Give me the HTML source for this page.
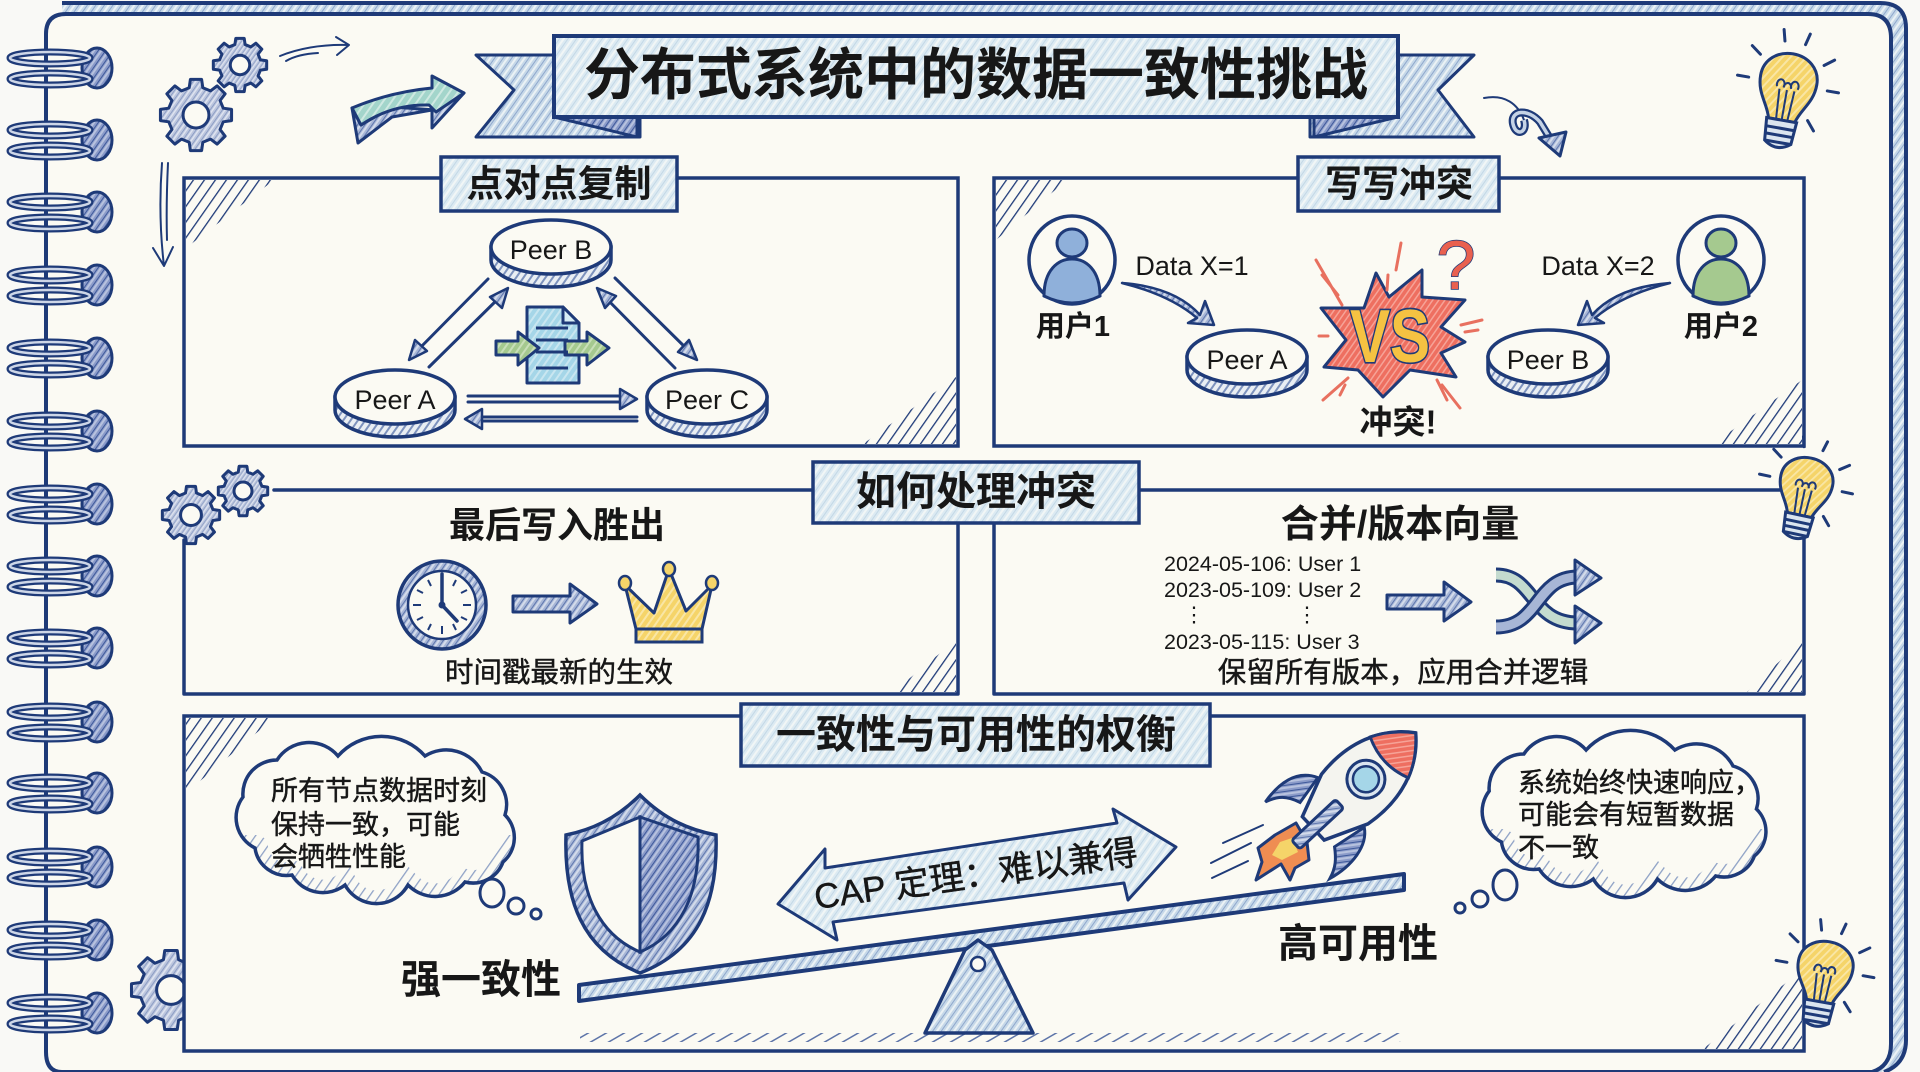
<!DOCTYPE html>
<html lang="zh">
<head>
<meta charset="utf-8">
<title>分布式系统中的数据一致性挑战</title>
<style>
html,body{margin:0;padding:0;background:#f9f9f6;width:1920px;height:1072px;overflow:hidden}
svg{display:block}
svg *{vector-effect:non-scaling-stroke}
text{font-family:"Liberation Sans","Noto Sans CJK SC",sans-serif;fill:#171717;text-anchor:middle;dominant-baseline:central}
.s{fill:none;stroke:#1e3a78;stroke-width:3.5;stroke-linecap:round;stroke-linejoin:round}
.t{fill:none;stroke:#1e3a78;stroke-width:2;stroke-linecap:round;stroke-linejoin:round}
.o{stroke:#1e3a78;stroke-width:3;stroke-linejoin:round;stroke-linecap:round}
.b{font-weight:700}
.m{stroke:#171717;stroke-width:.45}
.l{text-anchor:start}
.r{stroke:#e8705f;stroke-width:3;fill:none;stroke-linecap:round}
</style>
</head>
<body>
<svg width="1920" height="1072" viewBox="0 0 1920 1072" xmlns="http://www.w3.org/2000/svg">
<defs>
<pattern id="pL" width="7" height="7" patternUnits="userSpaceOnUse" patternTransform="rotate(35)"><rect width="7" height="7" fill="#dceaf2"/><rect width="2" height="7" fill="#f1f6f6"/><rect x="4" width="1" height="7" fill="#c3d8e6"/></pattern>
<pattern id="pT" width="7" height="7" patternUnits="userSpaceOnUse" patternTransform="rotate(35)"><rect width="7" height="7" fill="#c6d8e8"/><rect width="2" height="7" fill="#ebf2f5"/><rect x="4" width="1" height="7" fill="#8fa8cd"/></pattern>
<pattern id="pD" width="6" height="6" patternUnits="userSpaceOnUse" patternTransform="rotate(35)"><rect width="6" height="6" fill="#e9eef3"/><rect width="2" height="6" fill="#7d92bd"/></pattern>
<pattern id="pH" width="8" height="8" patternUnits="userSpaceOnUse" patternTransform="rotate(35)"><rect width="1.3" height="8" fill="#8fa2c6"/></pattern>
<pattern id="pC" width="9" height="9" patternUnits="userSpaceOnUse" patternTransform="rotate(35)"><rect width="1.3" height="9" fill="#1e3a78"/></pattern>
<pattern id="pG" width="9" height="9" patternUnits="userSpaceOnUse" patternTransform="rotate(60)"><rect width="1.5" height="9" fill="#5d74a8"/></pattern>
<pattern id="pB" width="6" height="6" patternUnits="userSpaceOnUse" patternTransform="rotate(35)"><rect width="6" height="6" fill="#a7b6d6"/><rect width="2" height="6" fill="#d3dbea"/><rect x="4" width="1" height="6" fill="#5f77ae"/></pattern>
<pattern id="pN" width="6" height="6" patternUnits="userSpaceOnUse" patternTransform="rotate(35)"><rect width="6" height="6" fill="#8b9bc9"/><rect width="2" height="6" fill="#b7c2de"/><rect x="4" width="1" height="6" fill="#3f5a9b"/></pattern>
<pattern id="pCyan" width="6" height="6" patternUnits="userSpaceOnUse" patternTransform="rotate(35)"><rect width="6" height="6" fill="#a5d6e8"/><rect width="2" height="6" fill="#c9e6f0"/></pattern>
<pattern id="pGreen" width="6" height="6" patternUnits="userSpaceOnUse" patternTransform="rotate(35)"><rect width="6" height="6" fill="#a5c98f"/><rect width="2" height="6" fill="#c8dfb8"/></pattern>
<pattern id="pTeal" width="7" height="7" patternUnits="userSpaceOnUse" patternTransform="rotate(35)"><rect width="7" height="7" fill="#a3d5cb"/><rect width="2" height="7" fill="#cfe9e2"/></pattern>
<pattern id="pYellow" width="6" height="6" patternUnits="userSpaceOnUse" patternTransform="rotate(35)"><rect width="6" height="6" fill="#f5d469"/><rect width="2" height="6" fill="#f9e6a5"/></pattern>
<pattern id="pRed" width="5" height="5" patternUnits="userSpaceOnUse" patternTransform="rotate(35)"><rect width="5" height="5" fill="#ee6f60"/><rect width="1.5" height="5" fill="#f6a397"/></pattern>
<pattern id="pGear" width="14" height="14" patternUnits="userSpaceOnUse" patternTransform="rotate(35)"><rect width="14" height="14" fill="#bcc6de"/><rect width="4" height="14" fill="#dfe4f0"/><rect x="9" width="2" height="14" fill="#7f92bd"/></pattern>

<g id="ring">
  <ellipse cx="97" cy="0" rx="15" ry="20" fill="url(#pN)" stroke="#1e3a78" stroke-width="3"/>
  <rect x="48" y="-6" width="28" height="12" fill="#fbfaf3"/>
  <ellipse cx="50" cy="-10" rx="40" ry="6" fill="none" stroke="#1e3a78" stroke-width="7"/>
  <ellipse cx="50" cy="-10" rx="40" ry="6" fill="none" stroke="#cdd6e7" stroke-width="2.5"/>
  <ellipse cx="50" cy="11" rx="40" ry="6" fill="none" stroke="#1e3a78" stroke-width="7"/>
  <ellipse cx="50" cy="11" rx="40" ry="6" fill="none" stroke="#cdd6e7" stroke-width="2.5"/>
</g>

<g id="gear">
  <path fill="url(#pGear)" stroke="#1e3a78" stroke-width="3" stroke-linejoin="round" d="M75.7,-18.9 98.8,-15.6 98.8,15.6 75.7,18.9 66.9,40.2 80.9,58.8 58.8,80.9 40.2,66.9 18.9,75.7 15.6,98.8 -15.6,98.8 -18.9,75.7 -40.2,66.9 -58.8,80.9 -80.9,58.8 -66.9,40.2 -75.7,18.9 -98.8,15.6 -98.8,-15.6 -75.7,-18.9 -66.9,-40.2 -80.9,-58.8 -58.8,-80.9 -40.2,-66.9 -18.9,-75.7 -15.6,-98.8 15.6,-98.8 18.9,-75.7 40.2,-66.9 58.8,-80.9 80.9,-58.8 66.9,-40.2Z"/>
  <circle r="36" fill="#fbfaf3" stroke="#1e3a78" stroke-width="3"/>
</g>

<g id="disc">
  <path d="M-60,0 V13 A60,27 0 0 0 60,13 V0 Z" fill="url(#pD)" stroke="#1e3a78" stroke-width="3.5"/>
  <ellipse rx="60" ry="27" fill="#fbfaf3" stroke="#1e3a78" stroke-width="3.5"/>
</g>

<g id="bulb">
  <path d="M-14,36 C-18,22 -30,14 -30,-4 C-30,-20 -16,-30 0,-30 C16,-30 30,-20 30,-4 C30,14 18,22 14,36 Z" fill="url(#pYellow)" stroke="#1e3a78" stroke-width="3"/>
  <path d="M-6,36 L-8,6 M6,36 L8,6 M0,36 L0,6 M-11,4 a4,5 0 1 1 7,0 a4,5 0 1 1 8,0 a4,5 0 1 1 7,0" fill="none" stroke="#1e3a78" stroke-width="2"/>
  <path d="M-16,36 H16 L14,58 Q0,68 -14,58 Z" fill="#dbe5ef" stroke="#1e3a78" stroke-width="3"/>
  <path d="M-16,44 H16 M-15,51 H15 M-13,58 H13" stroke="#1e3a78" stroke-width="3" fill="none"/>
  <path d="M-11,-41 -14,-52 M11,-41 14,-52 M-34,-24 -44,-31 M34,-24 44,-31 M-42,0 -54,0 M42,0 54,0 M27,32 35,41" stroke="#1e3a78" stroke-width="3" fill="none" stroke-linecap="round"/>
</g>

<path id="cloud" d="M243,797 A34,34 0 0 1 277,760 A38,38 0 0 1 338,756 A58,58 0 0 1 425,756 A40,40 0 0 1 482,772 A34,34 0 0 1 505,815 A32,32 0 0 1 503,862 A32,32 0 0 1 465,882 A38,38 0 0 1 408,885 A36,36 0 0 1 345,885 A36,36 0 0 1 292,875 A32,32 0 0 1 255,848 A34,34 0 0 1 243,797 Z"/>
<clipPath id="cc"><use href="#cloud"/></clipPath>
<clipPath id="cl"><rect x="220" y="835" width="320" height="90"/></clipPath>
<g id="cloudG">
  <use href="#cloud" fill="#fbfaf3"/>
  <g clip-path="url(#cc)"><g clip-path="url(#cl)"><use href="#cloud" fill="none" stroke="url(#pH)" stroke-width="26"/></g></g>
  <use href="#cloud" fill="none" stroke="#1e3a78" stroke-width="3.5"/>
</g>
</defs>

<!-- sheet -->
<rect width="1920" height="1072" fill="#f9f9f6"/>
<path d="M62,2 H1880 Q1906,2 1906,28 V1040 Q1906,1072 1880,1072 H1800 V14 H62 Z" fill="url(#pT)"/>
<path d="M62,3 H1880 Q1906,3 1906,28 V1040 Q1906,1064 1884,1072" fill="none" stroke="#1e3a78" stroke-width="4"/>
<path d="M46,1052 V34 Q46,14 66,14 H1868 Q1891,14 1891,38 V1044 Q1891,1066 1872,1072 H62 Q46,1072 46,1052 Z" fill="#fbfaf3" stroke="#1e3a78" stroke-width="4"/>

<!-- rings -->
<use href="#ring" y="68"/><use href="#ring" y="140"/><use href="#ring" y="212"/><use href="#ring" y="285"/><use href="#ring" y="358"/><use href="#ring" y="431"/><use href="#ring" y="504"/><use href="#ring" y="576"/><use href="#ring" y="648"/><use href="#ring" y="722"/><use href="#ring" y="793"/><use href="#ring" y="867"/><use href="#ring" y="940"/><use href="#ring" y="1013"/>

<!-- top decorations -->
<use href="#gear" transform="translate(196,115) scale(.36)"/>
<use href="#gear" transform="translate(240,65) scale(.27)"/>
<path class="t" d="M280,56 Q310,44 348,45 M336,37 L349,45 L337,55 M286,61 Q298,54 318,53" />
<path class="o" fill="url(#pB)" d="M352,108 L358,143 L392,117 L432,110 L432,128 L464,93 L436,110 L392,107 L361,125 Z"/>
<path class="o" fill="url(#pTeal)" d="M352,108 Q390,92 432,88 L432,76 L464,93 L436,112 L429,105 Q392,104 361,125 Z"/>
<path class="t" d="M162,163 Q158,215 164,266 M168,163 Q166,205 167,240 M153,248 L164,266 L173,247"/>

<!-- ribbon -->
<path class="o" fill="url(#pT)" d="M476,55 H640 V137 H476 L514,90 Z"/>
<path class="o" fill="url(#pT)" d="M1474,55 H1310 V137 H1474 L1438,90 Z"/>
<path class="o" fill="url(#pN)" d="M554,117 L637,137 V117 Z"/>
<path class="o" fill="url(#pN)" d="M1398,117 L1314,137 V117 Z"/>
<rect x="554" y="36" width="844" height="81" fill="url(#pL)" stroke="#1e3a78" stroke-width="4"/>
<text x="976" y="75" class="b" font-size="56">分布式系统中的数据一致性挑战</text>

<path class="t" d="M1484,98 C1505,94 1518,104 1524,120"/>
<path d="M1524,120 C1528,133 1516,137 1513,124 C1510,110 1528,108 1540,122 L1551,140" fill="none" stroke="#1e3a78" stroke-width="8" stroke-linejoin="round"/>
<path d="M1524,120 C1528,133 1516,137 1513,124 C1510,110 1528,108 1540,122 L1551,140" fill="none" stroke="#c5d3e6" stroke-width="3.5" stroke-linejoin="round"/>
<path class="o" fill="url(#pB)" d="M1539,138 L1566,132 L1560,156 Z"/>
<use href="#bulb" transform="translate(1788,84) rotate(10) scale(.95,1.02)"/>

<!-- Panel 1 -->
<rect x="184" y="178" width="774" height="268" fill="none" stroke="#1e3a78" stroke-width="3.5"/>
<polygon points="186,180 274,180 186,248" fill="url(#pC)"/>
<polygon points="956,444 863,444 956,377" fill="url(#pC)"/>
<rect x="441" y="157" width="236" height="54" fill="url(#pL)" stroke="#1e3a78" stroke-width="3.5"/>
<text x="559" y="184" class="b" font-size="37">点对点复制</text>

<use href="#disc" x="551" y="247"/><text x="551" y="250" font-size="27">Peer B</text>
<use href="#disc" x="395" y="397"/><text x="395" y="400" font-size="27">Peer A</text>
<use href="#disc" x="707" y="397"/><text x="707" y="400" font-size="27">Peer C</text>

<g class="s" style="stroke-width:3">
  <path d="M429,367 L505,292"/><path d="M488,279 L412,356"/>
  <path d="M615,278 L694,356"/><path d="M675,368 L600,292"/>
  <path d="M468,396 H630 M468,402 H630"/><path d="M637,417 H472 M637,421 H472"/>
</g>
<g class="o" fill="url(#pB)" style="stroke-width:2.5">
  <polygon points="508,288 502,308 490,297"/>
  <polygon points="409,360 415,340 427,351"/>
  <polygon points="697,360 678,352 689,340"/>
  <polygon points="597,288 616,296 605,308"/>
  <polygon points="637,399 620,389 620,409"/>
  <polygon points="465,419 482,409 482,429"/>
</g>
<path class="o" fill="url(#pCyan)" d="M527,307 H563 L579,323 V383 H527 Z"/>
<path class="o" fill="#d8eef5" d="M563,307 V323 H579 Z"/>
<path class="o" fill="url(#pGreen)" d="M496,341 H518 V332 L539,348 L518,365 V355 H496 Z"/>
<path class="o" fill="url(#pGreen)" d="M565,341 H587 V332 L609,348 L587,365 V355 H565 Z"/>
<path d="M536,328 H568 M536,340 H568 M536,352 H568 M536,368 H568" stroke="#1e3a78" stroke-width="3"/>

<!-- Panel 2 -->
<rect x="994" y="178" width="810" height="268" fill="none" stroke="#1e3a78" stroke-width="3.5"/>
<polygon points="996,180 1067,180 996,240" fill="url(#pC)"/>
<polygon points="1802,444 1713,444 1802,380" fill="url(#pC)"/>
<rect x="1298" y="157" width="201" height="54" fill="url(#pL)" stroke="#1e3a78" stroke-width="3.5"/>
<text x="1399" y="184" class="b" font-size="37">写写冲突</text>

<ellipse cx="1072" cy="260" rx="43" ry="44" fill="#fbfaf3" stroke="#1e3a78" stroke-width="3.5"/>
<ellipse cx="1072" cy="243" rx="15" ry="14" fill="#8fb0da" stroke="#1e3a78" stroke-width="3"/>
<path d="M1044,296 C1044,270 1058,259 1072,259 C1086,259 1100,270 1100,296 Q1072,310 1044,296 Z" fill="#8fb0da" stroke="#1e3a78" stroke-width="3"/>
<ellipse cx="1721" cy="260" rx="43" ry="44" fill="#fbfaf3" stroke="#1e3a78" stroke-width="3.5"/>
<ellipse cx="1721" cy="243" rx="15" ry="14" fill="#a5c98f" stroke="#1e3a78" stroke-width="3"/>
<path d="M1693,296 C1693,270 1707,259 1721,259 C1735,259 1749,270 1749,296 Q1721,310 1693,296 Z" fill="#a5c98f" stroke="#1e3a78" stroke-width="3"/>
<text x="1073" y="327" class="b" font-size="29">用户1</text>
<text x="1721" y="327" class="b" font-size="29">用户2</text>
<text x="1192" y="266" font-size="27">Data X=1</text>
<text x="1598" y="266" font-size="27">Data X=2</text>
<path class="o" fill="url(#pB)" d="M1122,283 Q1175,287 1200,315 L1205,301 L1214,325 L1188,323 L1197,318 Q1170,295 1122,283 Z" style="stroke-width:2.5"/>
<path class="o" fill="url(#pB)" d="M1670,283 Q1617,287 1592,315 L1587,301 L1578,325 L1604,323 L1595,318 Q1622,295 1670,283 Z" style="stroke-width:2.5"/>
<use href="#disc" x="1247" y="357"/><text x="1247" y="360" font-size="27">Peer A</text>
<use href="#disc" x="1548" y="357"/><text x="1548" y="360" font-size="27">Peer B</text>
<polygon class="o" fill="url(#pRed)" points="1376,273 1389,297 1422,270 1422,297 1465,300 1441,327 1465,342 1441,353 1456,377 1410,370 1383,397 1358,370 1324,367 1346,340 1321,308 1364,308"/>
<g transform="translate(1390,337) scale(1,1.25)"><text x="0" y="0" class="b" font-size="60" style="fill:#f5c242;stroke:#1e3a78;stroke-width:3;paint-order:stroke">VS</text></g>
<text x="1456" y="265" font-size="70" style="fill:#e9604f;stroke:#1e3a78;stroke-width:1.5;paint-order:stroke">?</text>
<g class="r">
  <path d="M1316,260 L1342,305 M1322,275 L1338,295"/><path d="M1401,243 L1396,270"/><path d="M1388,275 L1387,290"/>
  <path d="M1461,325 L1482,320 M1465,332 L1478,330"/><path d="M1319,336 L1328,336"/>
  <path d="M1323,400 L1348,378 M1345,385 L1340,395"/><path d="M1442,385 L1460,408 M1437,380 L1447,400"/>
</g>
<text x="1398" y="422" class="b" font-size="33">冲突!</text>

<!-- Panels 3 / 4 -->
<path class="s" d="M274,490 H813 M958,523 V694 H184 V540"/>
<path class="s" d="M1139,490 H1780 M994,523 V694 H1804 V533"/>
<polygon points="956,692 893,692 956,640" fill="url(#pC)"/>
<polygon points="1802,692 1747,692 1802,640" fill="url(#pC)"/>
<use href="#gear" transform="translate(191,515) scale(.29)"/>
<use href="#gear" transform="translate(243,491) scale(.25)"/>
<use href="#bulb" transform="translate(1806,484) rotate(12) scale(.88)"/>
<rect x="813" y="462" width="326" height="61" fill="url(#pL)" stroke="#1e3a78" stroke-width="3.5"/>
<text x="976" y="492" class="b" font-size="40">如何处理冲突</text>

<text x="557" y="525" class="b" font-size="36">最后写入胜出</text>
<circle cx="442" cy="605" r="44" fill="url(#pB)" stroke="#1e3a78" stroke-width="3.5"/>
<circle cx="442" cy="605" r="34" fill="#fbfaf3" stroke="#1e3a78" stroke-width="2.5"/>
<path d="M442,576 V584 M442,626 V634 M413,605 H421 M463,605 H471 M456,580 L453,586 M428,580 L431,586 M467,590 L461,593 M417,590 L423,593 M467,620 L461,617 M417,620 L423,617 M456,630 L453,624 M428,630 L431,624" stroke="#1e3a78" stroke-width="2"/>
<path d="M442,605 V574 M442,605 L457,621" stroke="#1e3a78" stroke-width="3.5" stroke-linecap="round"/>
<circle cx="442" cy="605" r="3.5" fill="#1e3a78"/>
<path class="o" fill="url(#pB)" d="M513,596 H570 V584 L597,604 L570,623 V612 H513 Z"/>
<path class="o" fill="url(#pYellow)" d="M625,585 L654,613 L669,569 L686,611 L712,585 L702,629 H636 Z"/>
<rect x="636" y="629" width="66" height="13" fill="url(#pYellow)" stroke="#1e3a78" stroke-width="3"/>
<ellipse cx="625" cy="583" rx="6" ry="7" fill="#f5d469" stroke="#1e3a78" stroke-width="2.5"/>
<ellipse cx="669" cy="569" rx="6" ry="7" fill="#f5d469" stroke="#1e3a78" stroke-width="2.5"/>
<ellipse cx="712" cy="583" rx="6" ry="7" fill="#f5d469" stroke="#1e3a78" stroke-width="2.5"/>
<text x="559" y="673" font-size="28.5" class="m">时间戳最新的生效</text>

<text x="1400" y="525" class="b" font-size="38">合并/版本向量</text>
<text x="1164" y="564" class="l" font-size="21.5">2024-05-106: User 1</text>
<text x="1164" y="590" class="l" font-size="21.5">2023-05-109: User 2</text>
<text x="1194" y="615" font-size="21">⋮</text>
<text x="1307" y="615" font-size="21">⋮</text>
<text x="1164" y="642" class="l" font-size="21.5">2023-05-115: User 3</text>
<path class="o" fill="url(#pB)" d="M1387,595 H1444 V582 L1471,602 L1444,621 V609 H1387 Z"/>
<path d="M1496,575 C1535,575 1530,623 1578,623" fill="none" stroke="#1e3a78" stroke-width="15"/>
<path d="M1496,575 C1535,575 1530,623 1578,623" fill="none" stroke="#c4dbcf" stroke-width="9"/>
<polygon class="o" fill="url(#pB)" points="1575,606 1601,623 1575,643"/>
<path d="M1496,627 C1540,627 1535,577 1578,577" fill="none" stroke="#1e3a78" stroke-width="15"/>
<path d="M1496,627 C1540,627 1535,577 1578,577" fill="none" stroke="#a7b6d6" stroke-width="9"/>
<polygon class="o" fill="url(#pB)" points="1575,560 1601,578 1575,595"/>
<text x="1403" y="673" font-size="28.5" class="m">保留所有版本，应用合并逻辑</text>

<!-- Panel 5 -->
<use href="#gear" transform="translate(171,990) scale(.4)"/>
<rect x="184" y="716" width="1620" height="335" fill="#fbfaf3" stroke="#1e3a78" stroke-width="3.5"/>
<polygon points="186,718 274,718 186,793" fill="url(#pC)"/>
<polygon points="1802,1049 1703,1049 1802,970" fill="url(#pC)"/>
<rect x="741" y="704" width="469" height="62" fill="url(#pL)" stroke="#1e3a78" stroke-width="3.5"/>
<text x="976" y="735" class="b" font-size="40">一致性与可用性的权衡</text>

<use href="#cloudG"/>
<text x="271" y="791" class="l m" font-size="27">所有节点数据时刻</text>
<text x="271" y="825" class="l m" font-size="27">保持一致，可能</text>
<text x="271" y="857" class="l m" font-size="27">会牺牲性能</text>
<ellipse cx="492" cy="893" rx="12" ry="14" fill="#fbfaf3" stroke="#1e3a78" stroke-width="3"/>
<circle cx="516" cy="906" r="8" fill="#fbfaf3" stroke="#1e3a78" stroke-width="3"/>
<circle cx="536" cy="914" r="5" fill="#fbfaf3" stroke="#1e3a78" stroke-width="3"/>

<polygon points="580,1033 1405,1033 1400,1042 580,1042" fill="url(#pG)"/>
<path d="M640,795 C665,820 690,830 716,835 C718,900 700,950 640,973 C582,950 564,900 566,835 C590,830 615,820 640,795 Z" fill="url(#pB)" stroke="#1e3a78" stroke-width="3.5"/>
<path d="M640,817 L582,841 C580,895 600,935 640,952 Z" fill="#fbfaf3" stroke="#1e3a78" stroke-width="3"/>
<path d="M640,817 L698,837 C700,895 680,935 640,952 Z" fill="url(#pN)" stroke="#1e3a78" stroke-width="3"/>
<text x="481" y="980" class="b" font-size="40">强一致性</text>

<polygon class="o" fill="url(#pT)" points="579,985 1404,874 1404,890 579,1001" style="stroke-width:4"/>
<path class="o" fill="url(#pT)" d="M965,950 L978,940 L992,950 L1033,1033 H925 Z" style="stroke-width:3.5"/>
<circle cx="978" cy="964" r="7" fill="#fbfaf3" stroke="#1e3a78" stroke-width="2.5"/>

<polygon class="o" fill="url(#pL)" points="778,904 825,849 825,868 1117,823 1113,809 1176,847 1128,900 1124,883 833,922 837,940"/>
<text x="976" y="875" transform="rotate(-8 976 875)" font-size="35" class="m">CAP 定理：难以兼得</text>

<path class="t" d="M1263,825 L1223,843 M1251,843 L1211,863 M1248,861 L1212,878"/>
<polygon class="o" fill="#ef8d52" points="1296,823 1307,842 1309,860 1295,868 1290,880 1281,864 1256,880 1262,862 1258,848 1275,835"/>
<polygon fill="#f5d469" points="1292,838 1298,852 1282,860 1272,855 1280,842"/>
<g transform="translate(1363,782) rotate(47)">
  <path d="M-34,30 C-50,38 -58,55 -52,85 C-48,72 -42,65 -28,60 Z" fill="url(#pN)" stroke="#1e3a78" stroke-width="3"/>
  <path d="M34,30 C50,40 54,65 48,90 C44,78 38,72 28,65 Z" fill="url(#pN)" stroke="#1e3a78" stroke-width="3"/>
  <path d="M0,-72 C28,-50 40,-15 34,25 L16,68 H-16 L-34,25 C-40,-15 -28,-50 0,-72 Z" fill="#f4f4ef" stroke="#1e3a78" stroke-width="3.5"/>
  <path d="M0,-72 C12,-62 22,-50 28,-36 Q0,-24 -28,-36 C-22,-50 -12,-62 0,-72 Z" fill="url(#pRed)" stroke="#1e3a78" stroke-width="3"/>
  <circle cy="-4" r="19" fill="#dbe5ef" stroke="#1e3a78" stroke-width="3"/>
  <circle cy="-4" r="13" fill="#a5d6e8" stroke="#1e3a78" stroke-width="2.5"/>
  <rect x="-6" y="32" width="12" height="60" rx="3" fill="url(#pB)" stroke="#1e3a78" stroke-width="3"/>
</g>

<use href="#cloudG" transform="translate(1479,726) scale(1.02,1) translate(-233,-732)"/>
<text x="1518" y="783" class="l m" font-size="27">系统始终快速响应，</text>
<text x="1518" y="815" class="l m" font-size="27">可能会有短暂数据</text>
<text x="1518" y="848" class="l m" font-size="27">不一致</text>
<ellipse cx="1505" cy="885" rx="12" ry="15" fill="#fbfaf3" stroke="#1e3a78" stroke-width="3"/>
<circle cx="1480" cy="899" r="8" fill="#fbfaf3" stroke="#1e3a78" stroke-width="3"/>
<circle cx="1460" cy="908" r="5" fill="#fbfaf3" stroke="#1e3a78" stroke-width="3"/>
<text x="1358" y="944" class="b" font-size="40">高可用性</text>
<use href="#bulb" transform="translate(1825,969) rotate(10) scale(.92)"/>
</svg>
</body>
</html>
